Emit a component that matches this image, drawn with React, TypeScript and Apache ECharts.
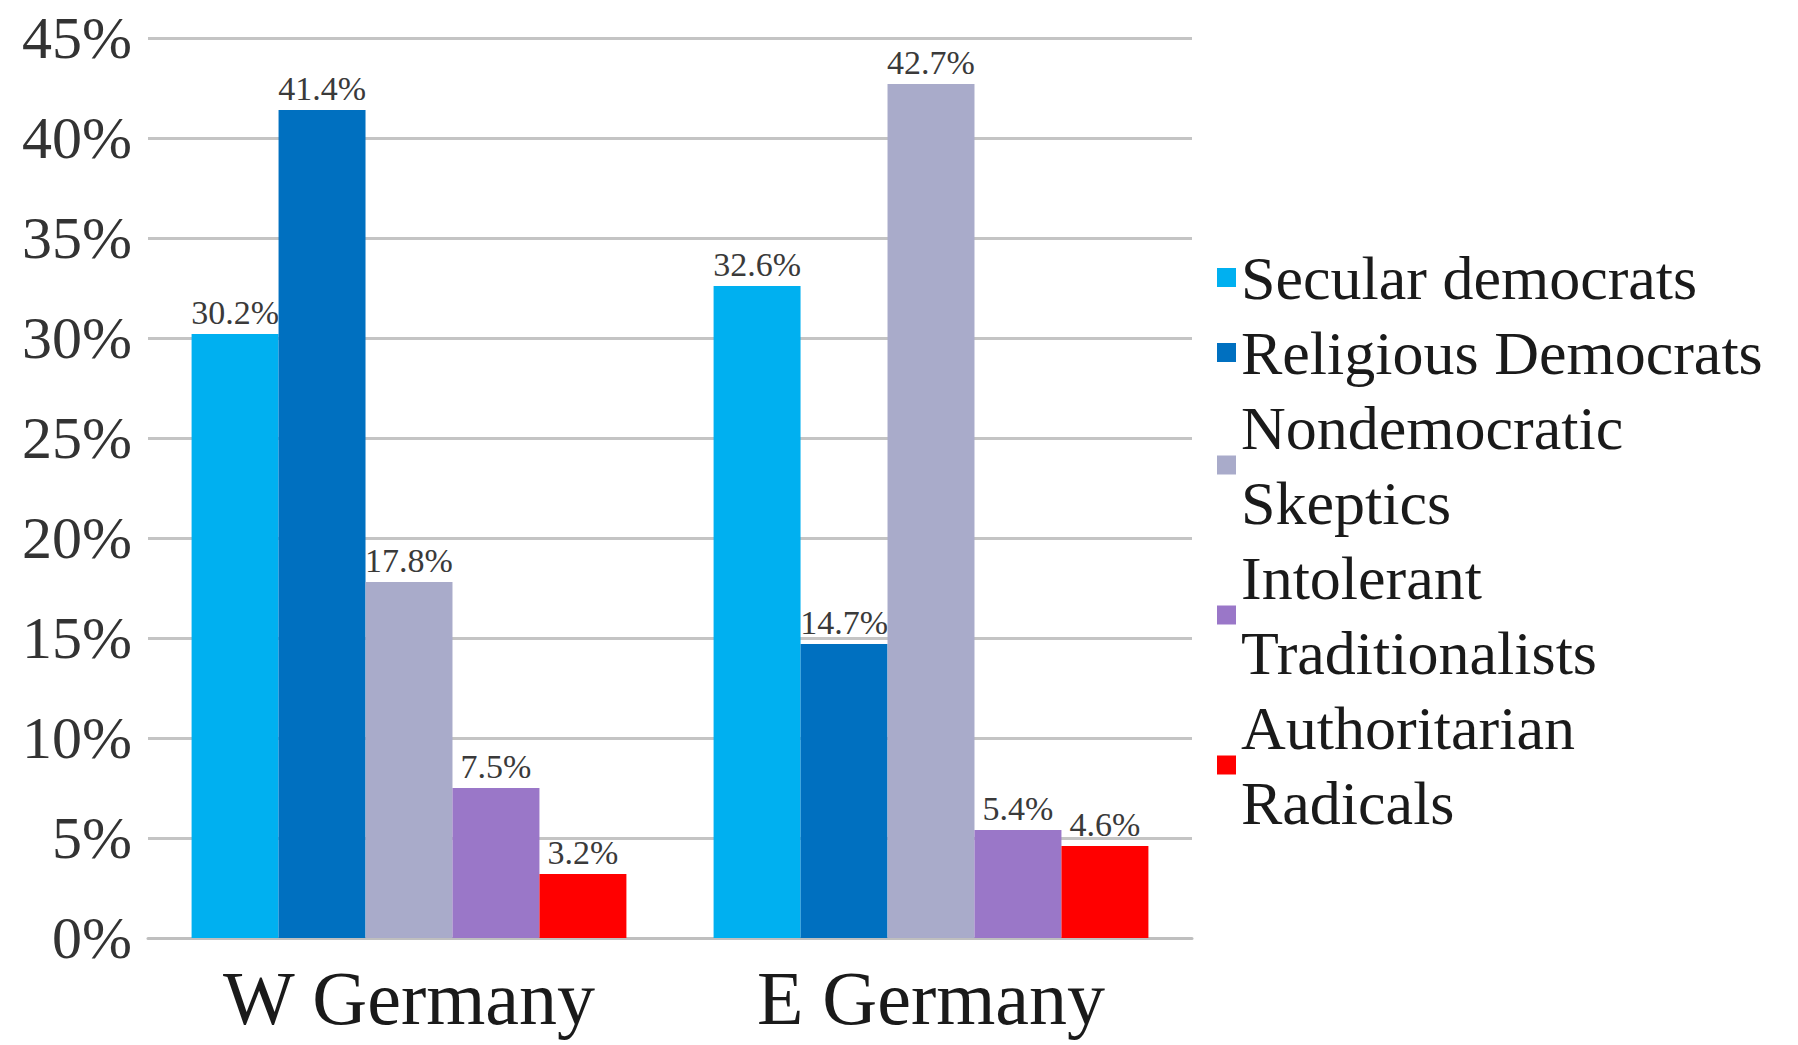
import React, { useEffect, useRef } from "react";
import * as echarts from "echarts";

const categories = ["W Germany", "E Germany"];
const seriesNames = [
  "Secular democrats",
  "Religious Democrats",
  "Nondemocratic Skeptics",
  "Intolerant Traditionalists",
  "Authoritarian Radicals",
];
const legendLabels = [
  "Secular democrats",
  "Religious Democrats",
  "Nondemocratic\nSkeptics",
  "Intolerant\nTraditionalists",
  "Authoritarian\nRadicals",
];
const secularDemocrats = [30.2, 32.6];
const religiousDemocrats = [41.4, 14.7];
const nondemocraticSkeptics = [17.8, 42.7];
const intolerantTraditionalists = [7.5, 5.4];
const authoritarianRadicals = [3.2, 4.6];
const seriesValues = [
  secularDemocrats,
  religiousDemocrats,
  nondemocraticSkeptics,
  intolerantTraditionalists,
  authoritarianRadicals,
];
const colors = ["#00B0F0", "#0070C0", "#A9ABCA", "#9A77C8", "#FF0000"];

const FONT = "'Liberation Serif', 'Times New Roman', serif";

export default function App() {
  const ref = useRef<HTMLDivElement>(null);
  useEffect(() => {
    if (!ref.current) return;
    const chart = echarts.init(ref.current, undefined, { renderer: "svg" });
    chart.setOption({
      animation: false,
      backgroundColor: "#ffffff",
      grid: { left: 148, top: 38, width: 1044, height: 900, containLabel: false },
      legend: {
        orient: "vertical",
        left: 1217,
        top: 240,
        padding: 0,
        itemGap: 0,
        itemWidth: 19,
        itemHeight: 19,
        icon: "rect",
        data: seriesNames,
        formatter: (name: string) => legendLabels[seriesNames.indexOf(name)],
        textStyle: {
          fontFamily: FONT,
          fontSize: 62,
          lineHeight: 75,
          color: "#1a1a1a",
        },
      },
      xAxis: {
        type: "category",
        data: categories,
        axisLine: { show: true, lineStyle: { color: "#bfbfbf", width: 3 } },
        axisTick: { show: false },
        axisLabel: {
          fontFamily: FONT,
          fontSize: 76,
          color: "#1a1a1a",
          margin: 22,
        },
      },
      yAxis: {
        type: "value",
        min: 0,
        max: 45,
        interval: 5,
        axisLine: { show: false },
        axisTick: { show: false },
        splitLine: { show: true, lineStyle: { color: "#c4c4c4", width: 3 } },
        axisLabel: {
          fontFamily: FONT,
          fontSize: 60,
          color: "#333333",
          margin: 16,
          formatter: "{value}%",
        },
      },
      series: seriesNames.map((name, i) => ({
        name,
        type: "bar",
        data: seriesValues[i],
        barGap: "0%",
        barCategoryGap: "16.7%",
        itemStyle: { color: colors[i] },
        label: {
          show: true,
          position: "top",
          distance: 5,
          fontFamily: FONT,
          fontSize: 34,
          color: "#3a3a3a",
          formatter: "{c}%",
        },
      })),
    });
    return () => chart.dispose();
  }, []);
  return (
    <div
      ref={ref}
      style={{ position: "fixed", left: 0, top: 0, width: 1798, height: 1045 }}
    />
  );
}
